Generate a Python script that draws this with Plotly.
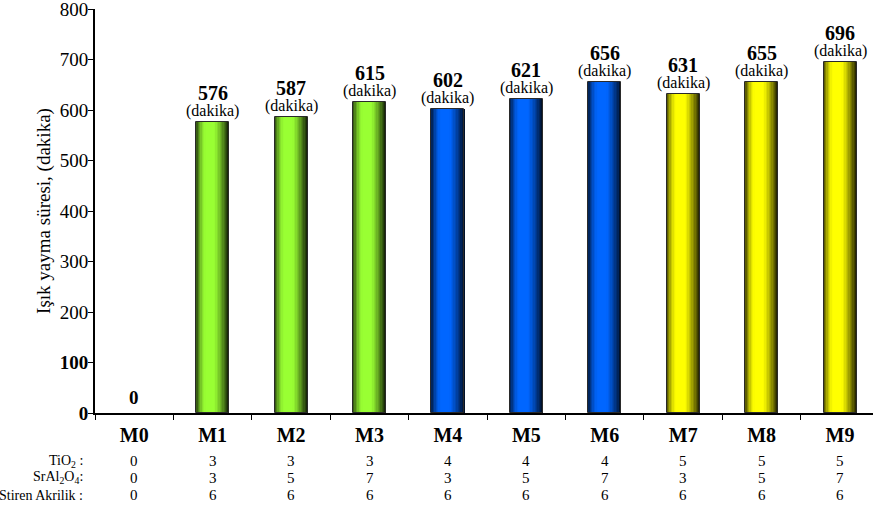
import math
import plotly.graph_objects as go

# Sample codes and measured light emission time (minutes)
samples = ["M0", "M1", "M2", "M3", "M4", "M5", "M6", "M7", "M8", "M9"]
emission_min = [0, 576, 587, 615, 602, 621, 656, 631, 655, 696]

# Composition table shown under the axis
tio2 = [0, 3, 3, 3, 4, 4, 4, 5, 5, 5]
sral2o4 = [0, 3, 5, 7, 3, 5, 7, 3, 5, 7]
stiren_akrilik = [0, 6, 6, 6, 6, 6, 6, 6, 6, 6]
row_labels = ["TiO<sub>2</sub> :", "SrAl<sub>2</sub>O<sub>4</sub>:", "Stiren Akrilik :"]

# y-axis ticks
y_ticks = [0, 100, 200, 300, 400, 500, 600, 700, 800]
y_tick_text = ["<b>0</b>", "<b>100</b>", "200", "300", "400", "500", "600", "700", "800"]

# Base colour per sample group (TiO2 level)
group_rgb = {0: (153, 255, 51), 3: (153, 255, 51), 4: (0, 102, 255), 5: (255, 255, 0)}

FONT = "Liberation Serif, Times New Roman, Times, serif"
BAR_W = 0.42
N_SLICES = 24

# plot-area geometry in pixels
L, R, T, B = 95, 0, 9, 105
W, H = 873, 518
PLOT_H = H - T - B


def shade(t):
    """Cylinder-like brightness profile across the bar (0 = left edge, 1 = right edge)."""
    if t < 0.3:
        return 0.3 + 0.7 * math.sin(t / 0.3 * math.pi / 2)
    if t < 0.55:
        return 1.0
    return 1.0 - 0.88 * ((t - 0.55) / 0.45) ** 1.2


fig = go.Figure()

slice_w = BAR_W / N_SLICES
for i in range(N_SLICES):
    t = (i + 0.5) / N_SLICES
    k = shade(t)
    colors = []
    for g in tio2:
        r, gg, b = group_rgb[g]
        colors.append(f"rgb({int(r * k)},{int(gg * k)},{int(b * k)})")
    w = slice_w * (1.6 if i < N_SLICES - 1 else 1.0)
    fig.add_trace(go.Bar(
        x=samples, y=emission_min,
        width=w,
        offset=-BAR_W / 2 + i * slice_w,
        marker=dict(color=colors, line=dict(width=0)),
        hoverinfo="skip", showlegend=False,
    ))

# thin dark outline around each bar
fig.add_trace(go.Bar(
    x=samples, y=emission_min, width=BAR_W, offset=-BAR_W / 2,
    marker=dict(color="rgba(0,0,0,0)",
                line=dict(color="#2a2a2a", width=[0 if v == 0 else 1 for v in emission_min])),
    hoverinfo="skip", showlegend=False,
))

annotations = []
for s, v in zip(samples, emission_min):
    if v == 0:
        annotations.append(dict(x=s, y=v, xref="x", yref="y", text="<b>0</b>",
                                showarrow=False, yanchor="bottom", yshift=3,
                                font=dict(family=FONT, size=19, color="black")))
        continue
    annotations.append(dict(x=s, y=v, xref="x", yref="y", text="(dakika)",
                            showarrow=False, yanchor="bottom", yshift=0,
                            font=dict(family=FONT, size=16, color="black")))
    annotations.append(dict(x=s, y=v, xref="x", yref="y", text=f"<b>{v}</b>",
                            showarrow=False, yanchor="bottom", yshift=16,
                            font=dict(family=FONT, size=20, color="black")))

rows = [tio2, sral2o4, stiren_akrilik]
row_y = [461, 478, 495]
for label, vals, py in zip(row_labels, rows, row_y):
    yp = -(py - (H - B)) / PLOT_H
    annotations.append(dict(x=(85 - L) / (W - L - R), y=yp, xref="paper", yref="paper",
                            text=label, showarrow=False, xanchor="right", yanchor="middle",
                            font=dict(family=FONT, size=14, color="black")))
    for s, v in zip(samples, vals):
        annotations.append(dict(x=s, y=yp, xref="x", yref="paper", text=str(v),
                                showarrow=False, xanchor="center", yanchor="middle",
                                font=dict(family=FONT, size=15, color="black")))

fig.update_layout(
    width=W, height=H,
    margin=dict(l=L, r=R, t=T, b=B),
    paper_bgcolor="white", plot_bgcolor="white",
    barmode="overlay", bargap=0,
    font=dict(family=FONT, size=18, color="black"),
    annotations=annotations,
    xaxis=dict(
        type="category", range=[-0.5, 9.42],
        showline=True, linecolor="black", linewidth=2,
        ticks="outside", tickson="boundaries", ticklen=5, tickcolor="black", tickwidth=1,
        tickvals=samples, ticktext=[f"<b>{s}</b>" for s in samples],
        tickfont=dict(family=FONT, size=20, color="black"),
        ticklabelstandoff=3,
        showgrid=False, zeroline=False, fixedrange=True,
    ),
    yaxis=dict(
        range=[0, 800], tickvals=y_ticks, ticktext=y_tick_text,
        showline=True, linecolor="black", linewidth=2,
        ticks="outside", ticklen=5, tickcolor="black", tickwidth=1,
        tickfont=dict(family=FONT, size=19, color="black"),
        ticklabeloverflow="allow", ticklabelstandoff=-4,
        showgrid=False, zeroline=False,
        title=dict(text="Işık yayma süresi, (dakika)", standoff=4,
                   font=dict(family=FONT, size=19, color="black")),
    ),
)

fig.write_html("out.html")
